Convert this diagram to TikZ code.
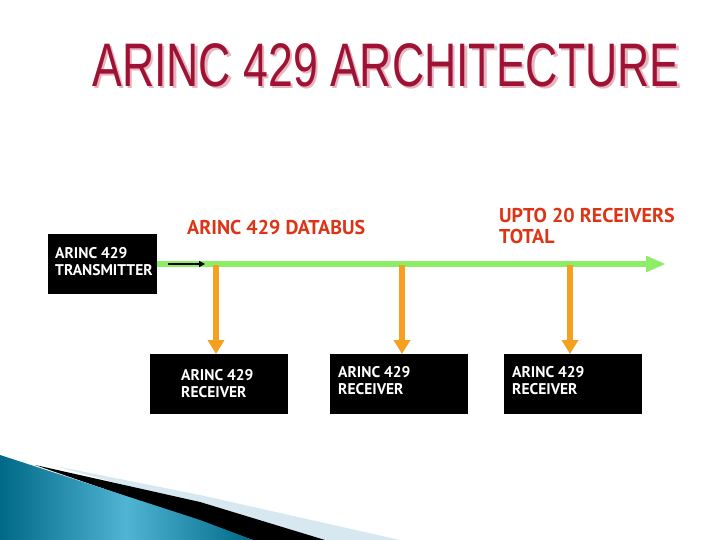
\documentclass[tikz,border=0pt]{standalone}
\usepackage{fontspec}
\newfontfamily\titlefont{Liberation Sans}
\newfontfamily\boxfont{PT Sans}
\usetikzlibrary{arrows.meta}
\definecolor{titlered}{RGB}{160,18,52}
\definecolor{titleshadow}{RGB}{228,182,192}
\definecolor{labelred}{RGB}{222,52,22}
\definecolor{busgreen}{RGB}{140,238,100}
\definecolor{taporange}{RGB}{245,160,30}
\definecolor{tealdark}{RGB}{0,105,135}
\definecolor{teallight}{RGB}{80,180,212}
\definecolor{stripelight}{RGB}{215,232,240}
\tikzset{
  blackbox/.style={fill=black, draw=none, text=white, font=\boxfont\bfseries\fontsize{15.5}{17}\selectfont, align=left, inner sep=0pt},
  redlabel/.style={text=labelred, font=\boxfont\bfseries\fontsize{20}{21}\selectfont, align=left, inner sep=0pt, anchor=north west},
  bus/.style={draw=busgreen, line width=6pt, -{Triangle[length=20pt,width=15pt]}},
  tap/.style={draw=taporange, line width=6pt, -{Triangle[length=14pt,width=16pt]}},
}
\begin{document}
\begin{tikzpicture}[x=1pt,y=-1pt]
\useasboundingbox (0,0) rectangle (720,540);
\fill[white] (0,0) rectangle (720,540);
% bottom-left decoration
\fill[stripelight] (55,466) -- (200,495) -- (400,540) -- (325,540) -- cycle;
\fill[black] (35,465) -- (200,502) -- (325,540) -- (253,540) -- cycle;
\shade[left color=tealdark, right color=tealdark, middle color=teallight] (0,455) -- (200,520) -- (253,540) -- (0,540) -- cycle;
% title
\node[text=titleshadow, font=\titlefont\fontsize{61.5}{62}\selectfont, xscale=0.725, inner sep=0] at (388.5,67.5) {ARINC 429 ARCHITECTURE};
\node[text=titlered, font=\titlefont\fontsize{61.5}{62}\selectfont, xscale=0.725, inner sep=0] (title) at (386,65) {ARINC 429 ARCHITECTURE};
% transmitter
\node[blackbox, minimum width=109pt, minimum height=60pt, anchor=north west] (tx) at (48,234) {};
\node[blackbox, fill=none, anchor=west] (txt) at (55,262) {ARINC 429\\TRANSMITTER};
% bus
\coordinate (busend) at (666,264);
\draw[bus] (tx.east |- busend) -- (busend);
\coordinate (sa) at (168,264);
\coordinate (sb) at (205,264);
\draw[-{Triangle[length=6pt,width=6pt]}, line width=1.3pt] (sa) -- (sb);
% labels
\node[redlabel] (dbl) at (187,220) {ARINC 429 DATABUS};
\node[redlabel] (upto) at (499,208) {UPTO 20 RECEIVERS\\TOTAL};
% receivers
\node[blackbox, minimum width=138pt, minimum height=60pt, anchor=north west] (r1) at (150,354) {};
\node[blackbox, minimum width=138pt, minimum height=60pt, anchor=north west] (r2) at (330,354) {};
\node[blackbox, minimum width=138pt, minimum height=60pt, anchor=north west] (r3) at (504,354) {};
\node[blackbox, fill=none, anchor=west] (r1t) at (181,384) {ARINC 429\\RECEIVER};
\node[blackbox, fill=none, anchor=west] (r2t) at (338,381) {ARINC 429\\RECEIVER};
\node[blackbox, fill=none, anchor=west] (r3t) at (512,381) {ARINC 429\\RECEIVER};
% taps
\coordinate (t1) at (216,265);
\coordinate (t2) at (402,265);
\coordinate (t3) at (570,265);
\draw[tap] (t1) -- (t1 |- r1.north);
\draw[tap] (t2) -- (t2 |- r2.north);
\draw[tap] (t3) -- (t3 |- r3.north);
\end{tikzpicture}
\end{document}
